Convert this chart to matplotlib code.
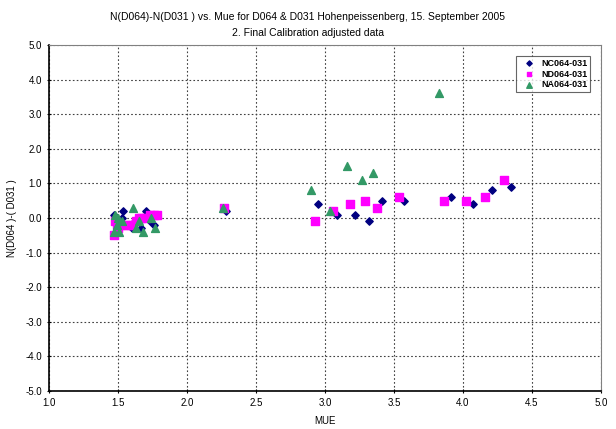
import matplotlib
matplotlib.use("Agg")
import matplotlib.pyplot as plt

plt.rcParams['font.family'] = ['Liberation Sans', 'DejaVu Sans']

# NC064-031 (diamonds)
nc_x = [1.47, 1.50, 1.51, 1.53, 1.54, 1.58, 1.60, 1.62, 1.65, 1.67, 1.70, 1.73, 1.76, 1.78,
        2.28, 2.95, 3.09, 3.22, 3.32, 3.41, 3.57, 3.91, 4.07, 4.21, 4.35]
nc_y = [0.1, -0.1, -0.3, 0.0, 0.2, -0.2, -0.3, -0.1, -0.1, -0.3, 0.2, -0.1, -0.2, 0.1,
        0.2, 0.4, 0.1, 0.1, -0.1, 0.5, 0.5, 0.6, 0.4, 0.8, 0.9]

# ND064-031 (squares)
nd_x = [1.47, 1.48, 1.49, 1.50, 1.52, 1.55, 1.59, 1.61, 1.63, 1.65, 1.67, 1.70, 1.73, 1.76, 1.78,
        2.27, 2.93, 3.06, 3.18, 3.29, 3.38, 3.54, 3.86, 4.02, 4.16, 4.30]
nd_y = [-0.5, -0.1, -0.2, -0.3, -0.2, -0.2, -0.2, -0.2, -0.1, 0.0, 0.0, 0.0, 0.1, 0.1, 0.1,
        0.3, -0.1, 0.2, 0.4, 0.5, 0.3, 0.6, 0.5, 0.5, 0.6, 1.1]

# NA064-031 (triangles)
na_x = [1.47, 1.48, 1.49, 1.50, 1.51, 1.53, 1.61, 1.63, 1.65, 1.68, 1.74, 1.77,
        2.26, 2.90, 3.04, 3.16, 3.27, 3.35, 3.83]
na_y = [-0.4, 0.1, -0.2, 0.0, -0.4, -0.1, 0.3, -0.3, -0.1, -0.4, 0.0, -0.3,
        0.3, 0.8, 0.2, 1.5, 1.1, 1.3, 3.6]

fig = plt.figure(figsize=(6.16, 4.29), dpi=100)
ax = fig.add_axes([0.0795, 0.0886, 0.896, 0.8065])

ax.scatter(nc_x, nc_y, marker='D', s=14, color='#000080', label='NC064-031', zorder=3)
ax.scatter(nd_x, nd_y, marker='s', s=26, color='#FF00FF', label='ND064-031', zorder=3)
ax.scatter(na_x, na_y, marker='^', s=32, color='#339966', label='NA064-031', zorder=3)

ax.set_xlim(1.0, 5.0)
ax.set_ylim(-5.0, 5.0)
ax.set_xticks([1.0 + 0.5 * i for i in range(9)])
ax.set_yticks([-5.0 + i for i in range(11)])
ax.xaxis.set_major_formatter(matplotlib.ticker.FormatStrFormatter('%.1f'))
ax.yaxis.set_major_formatter(matplotlib.ticker.FormatStrFormatter('%.1f'))
ax.tick_params(labelsize=7, length=3, direction='inout', width=0.8)
ax.grid(True, linestyle=(0, (1.5, 2)), color='#404040', linewidth=0.8)
ax.set_axisbelow(True)

for s in ['top', 'right']:
    ax.spines[s].set_color('#808080')
    ax.spines[s].set_linewidth(0.8)
for s in ['left', 'bottom']:
    ax.spines[s].set_color('black')
    ax.spines[s].set_linewidth(1.2)

ax.set_xlabel('MUE', fontsize=7, labelpad=6)
ax.set_ylabel('N(D064 )-( D031 )', fontsize=7, labelpad=6)

fig.text(0.5, 0.96, 'N(D064)-N(D031 ) vs. Mue for D064 & D031 Hohenpeissenberg, 15. September 2005',
         ha='center', va='center', fontsize=7.5)
fig.text(0.5, 0.922, '2. Final Calibration adjusted data', ha='center', va='center', fontsize=7.5)

leg = ax.legend(loc='upper right', bbox_to_anchor=(0.98, 0.968),
                prop={'size': 6.5, 'weight': 'bold'},
                frameon=True, fancybox=False, edgecolor='#404040', handletextpad=0.1,
                handlelength=2.4, borderpad=0.3, labelspacing=0.2, scatterpoints=1,
                markerscale=0.7, borderaxespad=0.0)
leg.get_frame().set_linewidth(0.8)

fig.savefig('out.png', dpi=100)
